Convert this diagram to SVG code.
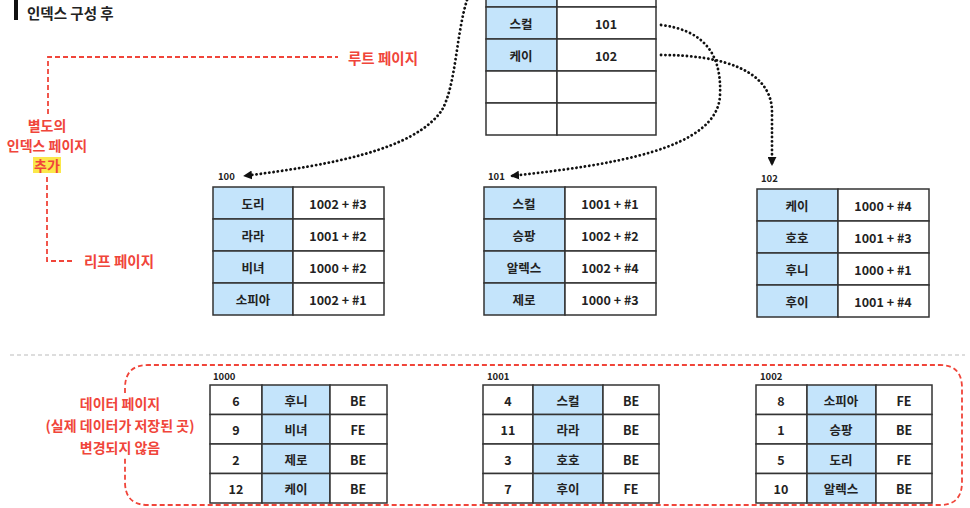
<svg xmlns="http://www.w3.org/2000/svg" width="970" height="508" viewBox="0 0 970 508">
<defs>
<style>
.cell{fill:#ffffff;stroke:#333;stroke-width:1.5}
.key{fill:#c4e4fb;stroke:#333;stroke-width:1.5}
.t{font-family:"Noto Sans CJK KR","Noto Sans",sans-serif;font-weight:700;font-size:12.5px;fill:#222;text-anchor:middle;dominant-baseline:central}
.lbl{font-family:"Noto Sans CJK KR","Noto Sans",sans-serif;font-weight:700;font-size:9.5px;fill:#222}
.red{font-family:"Noto Sans CJK KR","Noto Sans",sans-serif;font-weight:700;font-size:14px;fill:#f0453a;dominant-baseline:central}
.rdash{fill:none;stroke:#f0453a;stroke-width:1.8;stroke-dasharray:5 3}
.dot{fill:none;stroke:#111;stroke-width:2.8;stroke-dasharray:0.1 4.2;stroke-linecap:round}
</style>
<marker id="ah" viewBox="0 0 10 10" refX="9" refY="5" markerWidth="9" markerHeight="9" markerUnits="userSpaceOnUse" orient="auto">
<path d="M0,0 L10,5 L0,10 z" fill="#111"/>
</marker>
</defs>
<rect width="970" height="508" fill="#ffffff"/>

<g id="title">
<rect x="14" y="0" width="4" height="20" fill="#111"/>
<text x="27" y="12" class="t" style="text-anchor:start;font-size:14.5px">인덱스 구성 후</text>
</g>

<g id="annotations">
<path class="rdash" d="M48,114 V57 H338"/>
<text x="348" y="57" class="red" style="font-size:14.5px">루트 페이지</text>
<text x="47" y="125" class="red" text-anchor="middle">별도의</text>
<text x="47" y="145" class="red" text-anchor="middle">인덱스 페이지</text>
<rect x="33" y="157" width="28" height="16" fill="#fbe84a"/>
<text x="47" y="165" class="red" text-anchor="middle">추가</text>
<path class="rdash" d="M47,177 V261 H73"/>
<text x="84" y="260" class="red" style="font-size:14.5px">리프 페이지</text>
<path d="M10,355 H965" fill="none" stroke="#bbb" stroke-width="1.2" stroke-dasharray="4 3"/>
<path class="rdash" d="M125,393 V388 Q125,365 148,365 H940 Q962,365 962,388 V482 Q962,505 940,505 H148 Q125,505 125,482 V458"/>
<text x="120" y="403" class="red" text-anchor="middle">데이터 페이지</text>
<text x="120" y="425" class="red" text-anchor="middle">(실제 데이터가 저장된 곳)</text>
<text x="120" y="447" class="red" text-anchor="middle">변경되지 않음</text>
</g>

<g id="root">
<rect class="key" x="486" y="-25" width="71" height="32"/>
<rect class="cell" x="557" y="-25" width="99" height="32"/>
<rect class="key" x="486" y="7" width="71" height="32"/>
<rect class="cell" x="557" y="7" width="99" height="32"/>
<rect class="key" x="486" y="39" width="71" height="32"/>
<rect class="cell" x="557" y="39" width="99" height="32"/>
<rect class="cell" x="486" y="71" width="71" height="32"/>
<rect class="cell" x="557" y="71" width="99" height="32"/>
<rect class="cell" x="486" y="103" width="71" height="32"/>
<rect class="cell" x="557" y="103" width="99" height="32"/>
<text class="t" x="521" y="23">스컬</text><text class="t" x="606" y="23">101</text>
<text class="t" x="521" y="55">케이</text><text class="t" x="606" y="55">102</text>
</g>

<g id="leaf100">
<text class="lbl" x="218" y="180">100</text>
<rect class="key" x="213" y="187" width="80" height="32"/><rect class="cell" x="293" y="187" width="91" height="32"/>
<rect class="key" x="213" y="219" width="80" height="32"/><rect class="cell" x="293" y="219" width="91" height="32"/>
<rect class="key" x="213" y="251" width="80" height="32"/><rect class="cell" x="293" y="251" width="91" height="32"/>
<rect class="key" x="213" y="283" width="80" height="32"/><rect class="cell" x="293" y="283" width="91" height="32"/>
<text class="t" x="253" y="203">도리</text><text class="t" x="338" y="203">1002 + #3</text>
<text class="t" x="253" y="235">라라</text><text class="t" x="338" y="235">1001 + #2</text>
<text class="t" x="253" y="267">비녀</text><text class="t" x="338" y="267">1000 + #2</text>
<text class="t" x="253" y="299">소피아</text><text class="t" x="338" y="299">1002 + #1</text>
</g>

<g id="leaf101">
<text class="lbl" x="488" y="180">101</text>
<rect class="key" x="484" y="187" width="81" height="32"/><rect class="cell" x="565" y="187" width="91" height="32"/>
<rect class="key" x="484" y="219" width="81" height="32"/><rect class="cell" x="565" y="219" width="91" height="32"/>
<rect class="key" x="484" y="251" width="81" height="32"/><rect class="cell" x="565" y="251" width="91" height="32"/>
<rect class="key" x="484" y="283" width="81" height="32"/><rect class="cell" x="565" y="283" width="91" height="32"/>
<text class="t" x="524" y="203">스컬</text><text class="t" x="610" y="203">1001 + #1</text>
<text class="t" x="524" y="235">승팡</text><text class="t" x="610" y="235">1002 + #2</text>
<text class="t" x="524" y="267">알렉스</text><text class="t" x="610" y="267">1002 + #4</text>
<text class="t" x="524" y="299">제로</text><text class="t" x="610" y="299">1000 + #3</text>
</g>

<g id="leaf102">
<text class="lbl" x="761" y="182">102</text>
<rect class="key" x="757" y="189" width="81" height="32"/><rect class="cell" x="838" y="189" width="91" height="32"/>
<rect class="key" x="757" y="221" width="81" height="32"/><rect class="cell" x="838" y="221" width="91" height="32"/>
<rect class="key" x="757" y="253" width="81" height="32"/><rect class="cell" x="838" y="253" width="91" height="32"/>
<rect class="key" x="757" y="285" width="81" height="32"/><rect class="cell" x="838" y="285" width="91" height="32"/>
<text class="t" x="797" y="205">케이</text><text class="t" x="883" y="205">1000 + #4</text>
<text class="t" x="797" y="237">호호</text><text class="t" x="883" y="237">1001 + #3</text>
<text class="t" x="797" y="269">후니</text><text class="t" x="883" y="269">1000 + #1</text>
<text class="t" x="797" y="301">후이</text><text class="t" x="883" y="301">1001 + #4</text>
</g>

<g id="data1000">
<text class="lbl" x="213" y="380">1000</text>
<rect class="cell" x="210" y="385" width="52" height="29.5"/><rect class="key" x="262" y="385" width="68" height="29.5"/><rect class="cell" x="330" y="385" width="57" height="29.5"/>
<rect class="cell" x="210" y="414.5" width="52" height="29.5"/><rect class="key" x="262" y="414.5" width="68" height="29.5"/><rect class="cell" x="330" y="414.5" width="57" height="29.5"/>
<rect class="cell" x="210" y="444" width="52" height="29.5"/><rect class="key" x="262" y="444" width="68" height="29.5"/><rect class="cell" x="330" y="444" width="57" height="29.5"/>
<rect class="cell" x="210" y="473.5" width="52" height="29.5"/><rect class="key" x="262" y="473.5" width="68" height="29.5"/><rect class="cell" x="330" y="473.5" width="57" height="29.5"/>
<text class="t" x="236" y="400">6</text><text class="t" x="296" y="400">후니</text><text class="t" x="358" y="400">BE</text>
<text class="t" x="236" y="429">9</text><text class="t" x="296" y="429">비녀</text><text class="t" x="358" y="429">FE</text>
<text class="t" x="236" y="459">2</text><text class="t" x="296" y="459">제로</text><text class="t" x="358" y="459">BE</text>
<text class="t" x="236" y="488">12</text><text class="t" x="296" y="488">케이</text><text class="t" x="358" y="488">BE</text>
</g>

<g id="data1001">
<text class="lbl" x="487" y="380">1001</text>
<rect class="cell" x="483" y="385" width="50" height="29.5"/><rect class="key" x="533" y="385" width="70" height="29.5"/><rect class="cell" x="603" y="385" width="56" height="29.5"/>
<rect class="cell" x="483" y="414.5" width="50" height="29.5"/><rect class="key" x="533" y="414.5" width="70" height="29.5"/><rect class="cell" x="603" y="414.5" width="56" height="29.5"/>
<rect class="cell" x="483" y="444" width="50" height="29.5"/><rect class="key" x="533" y="444" width="70" height="29.5"/><rect class="cell" x="603" y="444" width="56" height="29.5"/>
<rect class="cell" x="483" y="473.5" width="50" height="29.5"/><rect class="key" x="533" y="473.5" width="70" height="29.5"/><rect class="cell" x="603" y="473.5" width="56" height="29.5"/>
<text class="t" x="508" y="400">4</text><text class="t" x="568" y="400">스컬</text><text class="t" x="631" y="400">BE</text>
<text class="t" x="508" y="429">11</text><text class="t" x="568" y="429">라라</text><text class="t" x="631" y="429">BE</text>
<text class="t" x="508" y="459">3</text><text class="t" x="568" y="459">호호</text><text class="t" x="631" y="459">BE</text>
<text class="t" x="508" y="488">7</text><text class="t" x="568" y="488">후이</text><text class="t" x="631" y="488">FE</text>
</g>

<g id="data1002">
<text class="lbl" x="760" y="380">1002</text>
<rect class="cell" x="756" y="385" width="51" height="29.5"/><rect class="key" x="807" y="385" width="69" height="29.5"/><rect class="cell" x="876" y="385" width="56" height="29.5"/>
<rect class="cell" x="756" y="414.5" width="51" height="29.5"/><rect class="key" x="807" y="414.5" width="69" height="29.5"/><rect class="cell" x="876" y="414.5" width="56" height="29.5"/>
<rect class="cell" x="756" y="444" width="51" height="29.5"/><rect class="key" x="807" y="444" width="69" height="29.5"/><rect class="cell" x="876" y="444" width="56" height="29.5"/>
<rect class="cell" x="756" y="473.5" width="51" height="29.5"/><rect class="key" x="807" y="473.5" width="69" height="29.5"/><rect class="cell" x="876" y="473.5" width="56" height="29.5"/>
<text class="t" x="781" y="400">8</text><text class="t" x="841" y="400">소피아</text><text class="t" x="904" y="400">FE</text>
<text class="t" x="781" y="429">1</text><text class="t" x="841" y="429">승팡</text><text class="t" x="904" y="429">BE</text>
<text class="t" x="781" y="459">5</text><text class="t" x="841" y="459">도리</text><text class="t" x="904" y="459">FE</text>
<text class="t" x="781" y="488">10</text><text class="t" x="841" y="488">알렉스</text><text class="t" x="904" y="488">BE</text>
</g>

<g id="connectors">
<path class="dot" d="M467,0 C456,35 456,85 442,110 C415,150 330,165 244,176" marker-end="url(#ah)"/>
<path class="dot" d="M661,25 C702,30 722,52 720,95 C718,150 610,165 511,176" marker-end="url(#ah)"/>
<path class="dot" d="M661,55 C722,55 772,70 772,112 L772,165" marker-end="url(#ah)"/>
</g>
</svg>
